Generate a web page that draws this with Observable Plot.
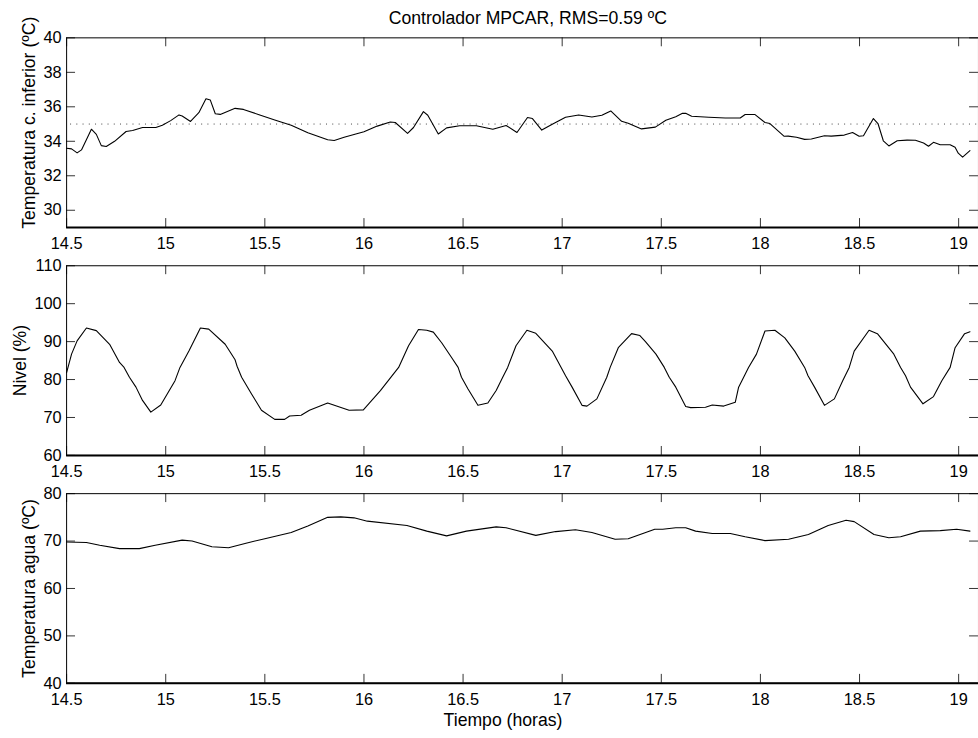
<!DOCTYPE html>
<html>
<head>
<meta charset="utf-8">
<script src="https://cdn.jsdelivr.net/npm/d3@7"></script>
<script src="https://cdn.jsdelivr.net/npm/@observablehq/plot@0.6"></script>
<style>
  html, body { margin: 0; padding: 0; background: white; }
  #wrap { width: 978px; height: 738px; overflow: hidden; position: relative; background: white; }
  #wrap svg { display: block; }
</style>
</head>
<body>
<div id="wrap"></div>
<script>
// ---- Data ----
const xTicks = [14.5, 15, 15.5, 16, 16.5, 17, 17.5, 18, 18.5, 19];
const yTicks1 = [30, 32, 34, 36, 38, 40];
const yTicks2 = [60, 70, 80, 90, 100, 110];
const yTicks3 = [40, 50, 60, 70, 80];
const setpoint = 35;

const title = "Controlador MPCAR, RMS=0.59 ºC";
const yLabel1 = "Temperatura c. inferior (ºC)";
const yLabel2 = "Nivel (%)";
const yLabel3 = "Temperatura agua (ºC)";
const xLabel = "Tiempo (horas)";

const time1 = [14.5,14.525,14.553,14.575,14.625,14.65,14.675,14.7,14.742,14.8,14.833,14.883,14.95,14.983,15.025,15.067,15.083,15.125,15.167,15.203,15.225,15.25,15.275,15.35,15.392,15.467,15.55,15.633,15.717,15.817,15.85,15.9,16.0,16.067,16.133,16.158,16.22,16.25,16.3,16.322,16.375,16.417,16.483,16.567,16.65,16.717,16.772,16.825,16.85,16.897,16.95,17.017,17.083,17.15,17.2,17.245,17.3,17.333,17.4,17.47,17.523,17.573,17.607,17.623,17.653,17.74,17.823,17.898,17.923,17.973,18.023,18.048,18.12,18.14,18.182,18.223,18.257,18.323,18.357,18.423,18.465,18.498,18.52,18.57,18.593,18.62,18.648,18.69,18.74,18.782,18.823,18.848,18.873,18.907,18.957,18.982,18.998,19.02,19.057];
const tempInf = [33.6,33.56,33.33,33.5,34.7,34.4,33.75,33.7,34.0,34.57,34.63,34.8,34.8,34.93,35.2,35.53,35.47,35.15,35.66,36.47,36.39,35.6,35.56,35.91,35.85,35.56,35.24,34.93,34.5,34.09,34.05,34.23,34.55,34.88,35.12,35.09,34.46,34.8,35.72,35.51,34.42,34.78,34.9,34.9,34.7,34.92,34.51,35.38,35.32,34.65,34.99,35.39,35.53,35.41,35.51,35.76,35.16,35.05,34.72,34.82,35.22,35.43,35.62,35.62,35.45,35.39,35.35,35.35,35.55,35.55,35.09,35.03,34.29,34.3,34.23,34.11,34.13,34.32,34.3,34.36,34.51,34.29,34.32,35.32,35.03,34.03,33.73,34.03,34.07,34.06,33.9,33.71,33.94,33.8,33.8,33.65,33.31,33.08,33.46];

const time2 = [14.5,14.525,14.553,14.6,14.65,14.717,14.767,14.79,14.817,14.85,14.883,14.925,14.975,15.047,15.072,15.117,15.175,15.217,15.3,15.35,15.36,15.383,15.433,15.483,15.55,15.6,15.625,15.683,15.725,15.817,15.925,15.997,16.083,16.175,16.225,16.275,16.317,16.35,16.392,16.442,16.475,16.492,16.525,16.575,16.625,16.667,16.7,16.725,16.767,16.822,16.867,16.95,17.017,17.05,17.1,17.125,17.175,17.225,17.242,17.283,17.35,17.392,17.42,17.473,17.515,17.54,17.573,17.623,17.648,17.723,17.757,17.815,17.873,17.89,17.923,17.94,17.98,18.023,18.073,18.123,18.173,18.223,18.24,18.273,18.323,18.373,18.415,18.448,18.473,18.548,18.59,18.673,18.707,18.732,18.757,18.82,18.873,18.915,18.957,18.982,19.03,19.057];
const nivel = [81.8,86.7,90.2,93.6,92.9,89.3,84.5,83.2,80.6,78.0,74.5,71.4,73.3,79.7,83.2,87.5,93.6,93.3,89.3,85.2,83.5,80.6,76.2,71.9,69.5,69.5,70.4,70.6,71.9,73.8,71.9,72.0,77.1,83.2,88.9,93.2,93.0,92.5,89.7,85.8,83.2,80.6,77.5,73.2,73.8,77.1,80.6,83.2,88.9,93.0,92.2,87.5,81.0,78.0,73.2,73.0,74.9,80.6,83.2,88.4,92.1,91.6,90.0,86.7,83.2,80.6,78.0,72.9,72.6,72.7,73.3,73.0,74.0,78.0,81.4,83.2,86.7,92.8,93.0,91.0,87.5,83.2,81.0,78.0,73.2,74.9,79.7,83.2,87.5,93.0,92.1,86.7,83.2,81.0,78.0,73.6,75.5,79.7,83.2,88.4,92.1,92.6];

const time3 = [14.5,14.6,14.667,14.767,14.867,14.947,15.083,15.133,15.233,15.317,15.4,15.5,15.633,15.717,15.817,15.883,15.95,16.017,16.217,16.317,16.417,16.517,16.667,16.717,16.867,16.967,17.067,17.15,17.267,17.333,17.467,17.507,17.573,17.623,17.673,17.757,17.848,17.923,18.023,18.142,18.242,18.342,18.432,18.473,18.573,18.648,18.707,18.807,18.907,18.99,19.057];
const tempAgua = [69.8,69.7,69.1,68.4,68.4,69.1,70.2,70.0,68.8,68.6,69.5,70.5,71.8,73.2,75.0,75.1,74.9,74.2,73.3,72.1,71.1,72.1,73.0,72.8,71.2,72.0,72.4,71.8,70.4,70.5,72.5,72.5,72.8,72.8,72.1,71.6,71.6,70.9,70.1,70.4,71.4,73.3,74.4,74.1,71.4,70.7,70.9,72.1,72.2,72.5,72.1];

// ---- Layout ----
const SVG_W = 987, ML = 66.7, MR = 0;
const INNER_W = SVG_W - ML - MR;
const INNER_H = 191.4;
const TICK = 9;
const FONT = "'Liberation Sans', Arial, Helvetica, sans-serif";
const LABEL_SIZE = 17.8;
const xDomain = [14.5, 19.1];

function panel({time, values, yDomain, yTicks, yLabel, labelDx, labelDy, marginTop, marginBottom, extra = []}) {
  const data = time.map((t, i) => ({t, v: values[i]}));
  return Plot.plot({
    width: SVG_W,
    height: marginTop + INNER_H + marginBottom,
    marginLeft: ML, marginRight: MR, marginTop, marginBottom,
    style: {fontFamily: FONT, fontSize: "16.5px", color: "black", background: "white", overflow: "visible"},
    x: {domain: xDomain, ticks: xTicks, tickSize: 0, tickPadding: 10, tickFormat: d => String(d), label: null},
    y: {domain: yDomain, ticks: yTicks, tickSize: 0, tickPadding: 5, tickFormat: d => String(d), label: null},
    marks: [
      ...extra,
      Plot.line(data, {x: "t", y: "v", stroke: "black", strokeWidth: 1.1}),
      // inward tick marks: bottom, top, left, right
      Plot.tickX(xTicks, {x: d => d, insetTop: INNER_H - TICK, stroke: "#333", strokeWidth: 1}),
      Plot.tickX(xTicks, {x: d => d, insetBottom: INNER_H - TICK, stroke: "#333", strokeWidth: 1}),
      Plot.tickY(yTicks, {y: d => d, insetRight: INNER_W - TICK, stroke: "#333", strokeWidth: 1}),
      Plot.tickY(yTicks, {y: d => d, insetLeft: INNER_W - TICK, stroke: "#333", strokeWidth: 1}),
      Plot.frame({stroke: "black", strokeWidth: 1}),
      Plot.ruleY([yDomain[0]], {stroke: "black", strokeWidth: 2}),
      Plot.text([yLabel], {frameAnchor: "left", textAnchor: "middle", lineAnchor: "middle", rotate: -90, dx: labelDx, dy: labelDy, fontSize: LABEL_SIZE, fill: "black"})
    ]
  });
}

const p1 = panel({
  time: time1, values: tempInf, yDomain: [29, 40], yTicks: yTicks1, yLabel: yLabel1,
  labelDx: -37.8, labelDy: -10, marginTop: 37.7, marginBottom: 22.9,
  extra: [
    Plot.ruleY([setpoint], {x1: xDomain[0], x2: xDomain[1], stroke: "#444", strokeWidth: 1, strokeDasharray: "1,5.3", strokeDashoffset: -4}),
    Plot.text([title], {frameAnchor: "top", textAnchor: "middle", lineAnchor: "middle", dx: 5.3, dy: -19.4, fontSize: LABEL_SIZE, fill: "black"})
  ]
});
const p2 = panel({
  time: time2, values: nivel, yDomain: [60, 110], yTicks: yTicks2, yLabel: yLabel2,
  labelDx: -46.5, labelDy: 0, marginTop: 15.4, marginBottom: 23.3
});
const p3 = panel({
  time: time3, values: tempAgua, yDomain: [40, 80], yTicks: yTicks3, yLabel: yLabel3,
  labelDx: -37.8, labelDy: 0, marginTop: 15.3, marginBottom: 49.3,
  extra: [
    Plot.text([xLabel], {frameAnchor: "bottom", textAnchor: "middle", lineAnchor: "middle", dx: -19.7, dy: 37.5, fontSize: LABEL_SIZE, fill: "black"})
  ]
});

const wrap = document.getElementById("wrap");
wrap.append(p1, p2, p3);
</script>
</body>
</html>
